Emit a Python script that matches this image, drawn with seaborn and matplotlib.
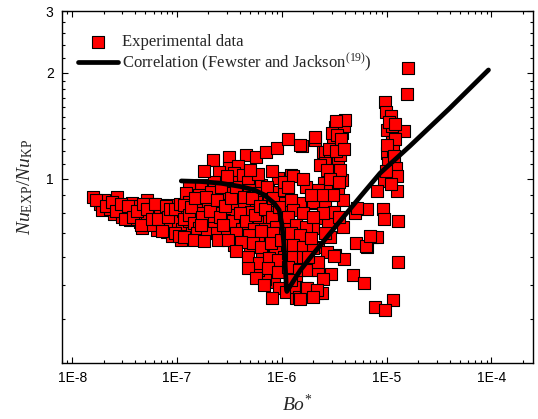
import numpy as np
import matplotlib
matplotlib.use("Agg")
import matplotlib.pyplot as plt
import seaborn as sns
from matplotlib.ticker import FixedLocator, NullFormatter

# experimental points, split by region of the cloud
bo_wing = [1.58e-8, 1.84e-8, 2.24e-8, 2.67e-8, 3.11e-8, 3.71e-8, 5.14e-8, 7.29e-8, 2.50e-8, 3.55e-8,
           4.41e-8, 5.49e-8, 6.68e-8, 7.96e-8, 9.90e-8, 1.23e-7, 1.06e-7, 1.23e-7, 1.93e-8, 2.98e-8,
           4.13e-8, 6.40e-8, 8.88e-8, 4.61e-8, 5.74e-8, 7.14e-8, 8.88e-8, 1.10e-7, 7.96e-8, 9.90e-8,
           3.55e-8, 5.14e-8, 6.40e-8, 2.00e-8, 2.30e-8, 2.80e-8, 3.30e-8, 3.90e-8, 4.30e-8, 4.80e-8,
           5.50e-8, 6.00e-8, 6.90e-8, 7.50e-8, 8.40e-8, 9.30e-8, 1.02e-7, 1.12e-7, 1.15e-7, 1.30e-7,
           1.40e-7, 4.00e-8, 3.00e-8, 1.70e-8, 2.10e-8, 2.40e-8, 2.60e-8, 2.90e-8, 3.20e-8, 3.40e-8,
           3.80e-8, 4.20e-8, 4.50e-8, 4.70e-8, 5.20e-8, 5.80e-8, 6.20e-8, 6.60e-8, 7.20e-8, 7.80e-8,
           8.20e-8, 8.60e-8, 9.50e-8, 9.60e-8, 1.05e-7, 1.08e-7, 1.18e-7]
nu_wing = [0.889, 0.849, 0.855, 0.889, 0.844, 0.855, 0.872, 0.844, 0.795, 0.765,
           0.755, 0.806, 0.740, 0.707, 0.726, 0.680, 0.800, 0.844, 0.816, 0.806,
           0.827, 0.790, 0.765, 0.726, 0.849, 0.775, 0.689, 0.671, 0.816, 0.844,
           0.816, 0.765, 0.716, 0.870, 0.820, 0.830, 0.790, 0.800, 0.840, 0.780,
           0.740, 0.820, 0.800, 0.740, 0.730, 0.790, 0.760, 0.720, 0.810, 0.760,
           0.700, 0.770, 0.780, 0.870, 0.840, 0.860, 0.810, 0.850, 0.770, 0.840,
           0.780, 0.810, 0.740, 0.850, 0.820, 0.770, 0.850, 0.770, 0.710, 0.840,
           0.780, 0.820, 0.700, 0.820, 0.690, 0.850, 0.770]

bo_core = [2.22e-7, 3.15e-7, 4.56e-7, 5.68e-7, 7.06e-7, 8.99e-7, 1.16e-6, 1.55e-6, 2.06e-6, 2.50e-6,
           3.15e-7, 3.83e-7, 2.53e-7, 3.51e-7, 4.27e-7, 9.19e-7, 1.22e-6, 6.33e-7, 4.77e-7, 3.29e-7,
           2.27e-7, 1.71e-7, 1.29e-7, 1.23e-7, 1.31e-7, 1.63e-7, 2.12e-7, 2.82e-7, 3.91e-7, 4.87e-7,
           5.93e-7, 7.38e-7, 9.19e-7, 1.14e-6, 1.18e-7, 1.60e-7, 1.99e-7, 2.53e-7, 3.67e-7, 4.37e-7,
           5.68e-7, 7.54e-7, 9.81e-7, 1.14e-6, 8.41e-7, 6.61e-7, 5.09e-7, 3.29e-7, 2.37e-7, 1.63e-7,
           1.29e-7, 1.46e-7, 2.22e-7, 2.82e-7, 3.83e-7, 6.06e-7, 7.54e-7, 9.81e-7, 1.63e-7, 2.27e-7,
           1.35e-7, 1.50e-7, 1.55e-7, 1.75e-7, 1.90e-7, 1.95e-7, 2.05e-7, 2.40e-7, 2.40e-7, 2.60e-7,
           2.65e-7, 2.90e-7, 3.00e-7, 3.30e-7, 3.40e-7, 3.50e-7, 3.70e-7, 4.00e-7, 4.20e-7, 4.40e-7,
           4.60e-7, 5.00e-7, 5.20e-7, 5.40e-7, 5.60e-7, 5.90e-7, 6.20e-7, 6.50e-7, 6.90e-7, 7.00e-7,
           7.30e-7, 7.70e-7, 8.00e-7, 8.20e-7, 8.60e-7, 8.80e-7, 9.50e-7, 1.00e-6, 1.05e-6, 1.05e-6,
           1.10e-6, 1.00e-6, 8.50e-7, 7.00e-7, 6.00e-7, 1.20e-6, 1.05e-6, 8.00e-7, 6.00e-7, 5.00e-7,
           3.00e-7, 1.80e-7]
nu_core = [1.132, 1.155, 1.170, 1.155, 1.193, 1.225, 1.299, 1.241, 1.290, 1.193,
           1.075, 1.089, 1.047, 1.040, 1.027, 1.007, 1.027, 0.961, 0.981, 0.981,
           0.981, 0.961, 0.949, 0.912, 0.860, 0.901, 0.919, 0.912, 0.912, 0.931,
           0.912, 0.931, 0.919, 0.931, 0.844, 0.833, 0.855, 0.844, 0.833, 0.860,
           0.860, 0.872, 0.855, 0.806, 0.806, 0.806, 0.806, 0.790, 0.800, 0.800,
           0.790, 0.750, 0.755, 0.765, 0.755, 0.755, 0.765, 0.755, 0.726, 0.726,
           0.830, 0.880, 0.700, 0.780, 0.890, 0.700, 0.810, 0.870, 0.700, 0.780,
           0.950, 0.840, 0.700, 0.880, 0.760, 0.650, 0.950, 0.800, 0.720, 0.890,
           0.760, 0.640, 0.880, 0.720, 0.790, 0.680, 0.840, 0.620, 0.720, 0.820,
           0.950, 0.680, 0.780, 0.880, 0.620, 0.730, 0.830, 0.700, 0.930, 0.600,
           0.760, 0.550, 0.510, 0.520, 0.550, 0.540, 0.980, 1.050, 1.030, 1.060,
           1.020, 1.050]

bo_low = [1.71e-7, 2.76e-7, 3.67e-7, 4.87e-7, 6.33e-7, 8.23e-7, 1.18e-7, 1.46e-7, 1.82e-7, 2.48e-7,
          3.08e-7, 4.09e-7, 5.32e-7, 6.33e-7, 7.88e-7, 9.81e-7, 1.27e-6, 3.67e-7, 4.77e-7, 6.06e-7,
          7.54e-7, 9.19e-7, 4.77e-7, 7.38e-7, 9.19e-7, 1.27e-6, 5.68e-7, 6.76e-7, 9.39e-7, 8.05e-7,
          1.09e-6, 1.36e-6, 1.36e-6, 1.36e-6, 1.16e-6, 1.22e-6]
nu_low = [0.740, 0.740, 0.702, 0.693, 0.712, 0.702, 0.684, 0.671, 0.667, 0.671,
          0.671, 0.662, 0.658, 0.641, 0.658, 0.671, 0.684, 0.624, 0.600, 0.577,
          0.596, 0.589, 0.559, 0.559, 0.544, 0.562, 0.523, 0.500, 0.490, 0.459,
          0.478, 0.459, 0.493, 0.534, 0.616, 0.649]

bo_column = [3.79e-6, 3.79e-6, 3.25e-6, 3.63e-6, 2.61e-6, 2.92e-6, 3.47e-6, 2.61e-6, 3.05e-6, 2.56e-6,
             3.79e-6, 2.73e-6, 2.10e-6, 1.51e-6, 2.61e-6, 2.24e-6, 2.79e-6, 1.97e-6, 2.92e-6, 3.87e-6,
             3.25e-6, 3.96e-6, 2.24e-6, 2.98e-6, 4.82e-6, 5.14e-6, 5.03e-6, 1.69e-6, 2.19e-6, 2.40e-6,
             2.06e-6, 1.51e-6, 1.27e-6, 1.16e-6, 1.22e-6, 2.01e-6, 1.27e-6, 1.58e-6, 1.16e-6, 1.36e-6,
             1.69e-6, 1.22e-6, 1.51e-6, 1.27e-6, 1.58e-6, 2.01e-6, 1.27e-6, 1.58e-6, 1.16e-6, 1.45e-6,
             1.80e-6, 2.24e-6, 1.22e-6, 1.45e-6, 1.69e-6, 2.61e-6,
             2.34e-6, 3.25e-6, 3.63e-6, 2.92e-6, 3.47e-6, 3.11e-6, 3.63e-6, 3.96e-6, 2.24e-6, 3.87e-6,
             3.18e-6, 3.00e-6, 3.40e-6, 3.70e-6, 2.80e-6, 3.30e-6, 3.90e-6, 2.70e-6, 3.60e-6, 2.90e-6,
             3.50e-6, 3.10e-6, 2.40e-6, 2.50e-6, 3.50e-6, 2.00e-6, 2.70e-6, 2.20e-6, 1.90e-6, 1.80e-6,
             2.50e-6, 4.00e-6, 3.30e-6, 1.70e-6, 1.90e-6, 1.60e-6]
nu_column = [1.452, 1.351, 1.406, 1.249, 1.193, 1.155, 1.118, 1.110, 1.027, 0.974,
             0.994, 0.901, 0.855, 0.855, 0.833, 0.775, 0.755, 0.726, 0.684, 0.730,
             0.608, 0.592, 0.641, 0.537, 0.534, 0.658, 0.800, 0.484, 0.474, 0.474,
             1.316, 1.249, 1.020, 0.949, 0.872, 0.860, 0.816, 0.800, 0.780, 0.740,
             0.730, 0.702, 0.693, 0.649, 0.641, 0.636, 0.600, 0.600, 0.562, 0.551,
             0.551, 0.551, 0.516, 0.462, 0.490, 0.702,
             1.096, 1.061, 1.170, 0.961, 0.931, 1.290, 1.378, 1.415, 0.931, 0.872,
             0.806, 1.350, 1.330, 1.300, 1.220, 1.200, 1.220, 1.060, 1.060, 1.000,
             0.980, 0.900, 0.900, 0.800, 0.780, 0.780, 0.620, 0.580, 0.680, 0.600,
             0.520, 1.470, 1.460, 0.950, 0.900, 1.000]

bo_right = [1.60e-5, 1.56e-5, 9.68e-6, 9.89e-6, 1.10e-5, 1.01e-5, 1.13e-5, 1.46e-5, 1.13e-5, 1.08e-5,
            1.01e-5, 1.15e-5, 1.03e-5, 1.23e-5, 1.26e-5, 9.49e-6, 8.14e-6, 1.26e-5, 6.54e-6, 9.29e-6,
            9.49e-6, 1.29e-5, 7.29e-6, 8.14e-6, 6.54e-6, 1.29e-5, 6.13e-6, 1.15e-5, 7.79e-6, 9.68e-6,
            5.26e-6, 6.40e-6, 6.98e-6, 3.18e-6, 1.76e-6, 2.15e-6, 1.51e-6, 1.97e-6, 1.05e-5, 1.20e-5,
            1.00e-5, 1.18e-5, 9.80e-6, 1.10e-5, 1.20e-5]
nu_right = [2.067, 1.744, 1.655, 1.550, 1.510, 1.378, 1.415, 1.369, 1.274, 1.233,
            1.185, 1.209, 1.110, 1.075, 1.020, 0.987, 0.925, 0.925, 0.822, 0.822,
            0.770, 0.760, 0.684, 0.684, 0.641, 0.581, 0.506, 0.453, 0.433, 0.424,
            0.827, 0.645, 0.689, 0.604, 0.490, 0.484, 0.456, 0.462, 1.450, 1.300,
            1.250, 1.160, 1.050, 0.970, 1.430]

# Fewster and Jackson correlation curve
bo_corr = [1.10e-7, 1.71e-7, 2.65e-7, 4.09e-7, 5.47e-7, 6.81e-7, 8.47e-7, 9.45e-7, 1.00e-6, 1.04e-6,
           1.07e-6, 1.09e-6, 1.11e-6, 1.12e-6, 1.31e-6, 1.51e-6, 2.02e-6, 3.36e-6, 5.61e-6, 8.67e-6,
           1.67e-5, 3.94e-5, 9.40e-5]
nu_corr = [0.987, 0.983, 0.972, 0.951, 0.931, 0.901, 0.853, 0.816, 0.748, 0.671,
           0.602, 0.540, 0.484, 0.479, 0.516, 0.551, 0.615, 0.740, 0.890, 1.038,
           1.24, 1.58, 2.04]

x_ticks = [1e-8, 1e-7, 1e-6, 1e-5, 1e-4]
x_tick_labels = ["1E-8", "1E-7", "1E-6", "1E-5", "1E-4"]
y_ticks = [1, 2, 3]
y_tick_labels = ["1", "2", "3"]
y_minor = [0.4, 0.5, 0.6, 0.7, 0.8, 0.9, 1.1, 1.2, 1.3, 1.4, 1.5, 1.6, 1.7, 1.8, 1.9, 2.2, 2.4, 2.6, 2.8]

bo_exp = np.concatenate([bo_wing, bo_core, bo_low, bo_column, bo_right])
nu_exp = np.concatenate([nu_wing, nu_core, nu_low, nu_column, nu_right])

sns.set_style("ticks")
plt.rcParams["font.family"] = ["Liberation Sans", "DejaVu Sans"]
plt.rcParams["mathtext.fontset"] = "custom"
plt.rcParams["mathtext.rm"] = "Liberation Serif"
plt.rcParams["mathtext.it"] = "Liberation Serif:italic"

fig = plt.figure(figsize=(5.38, 4.19), dpi=100)
ax = fig.add_axes([0.1152, 0.1337, 0.8755, 0.84])

sns.scatterplot(x=bo_exp, y=nu_exp, ax=ax, marker="s", s=70, color="#ff0000",
                edgecolor="black", linewidth=0.8, label="Experimental data", zorder=2)
sns.lineplot(x=bo_corr, y=nu_corr, ax=ax, color="black", linewidth=3.4, sort=False,
             estimator=None, solid_capstyle="round", solid_joinstyle="round",
             label="Correlation (Fewster and Jackson$^{(19)}$)", zorder=3)

ax.set_xscale("log")
ax.set_yscale("log")
ax.set_xlim(8e-9, 2.5e-4)
ax.set_ylim(0.3, 3)

ax.xaxis.set_major_locator(FixedLocator(x_ticks))
ax.set_xticklabels(x_tick_labels)
ax.xaxis.set_minor_formatter(NullFormatter())
ax.yaxis.set_major_locator(FixedLocator(y_ticks))
ax.set_yticklabels(y_tick_labels)
ax.yaxis.set_minor_locator(FixedLocator(y_minor))
ax.yaxis.set_minor_formatter(NullFormatter())

ax.tick_params(which="both", direction="in", top=True, right=True, width=0.8,
               colors="black", labelsize=10)
ax.tick_params(which="major", length=4.5, pad=6)
ax.tick_params(which="minor", length=2.5)
for sp in ax.spines.values():
    sp.set_color("black")
    sp.set_linewidth(1.0)

ax.set_xlabel(r"$\mathit{Bo}^{*}$", fontsize=14, labelpad=6)
ax.set_ylabel(r"$\mathit{Nu}_{\mathrm{EXP}}/\mathit{Nu}_{\mathrm{KP}}$", fontsize=14, labelpad=8)

ax.legend(loc="upper left", bbox_to_anchor=(0.034, 0.935), frameon=False,
          prop={"family": "Liberation Serif", "size": 12}, handlelength=2.4,
          handletextpad=0.25, labelspacing=0.12, borderpad=0, borderaxespad=0)

fig.savefig("out.png", dpi=100)
